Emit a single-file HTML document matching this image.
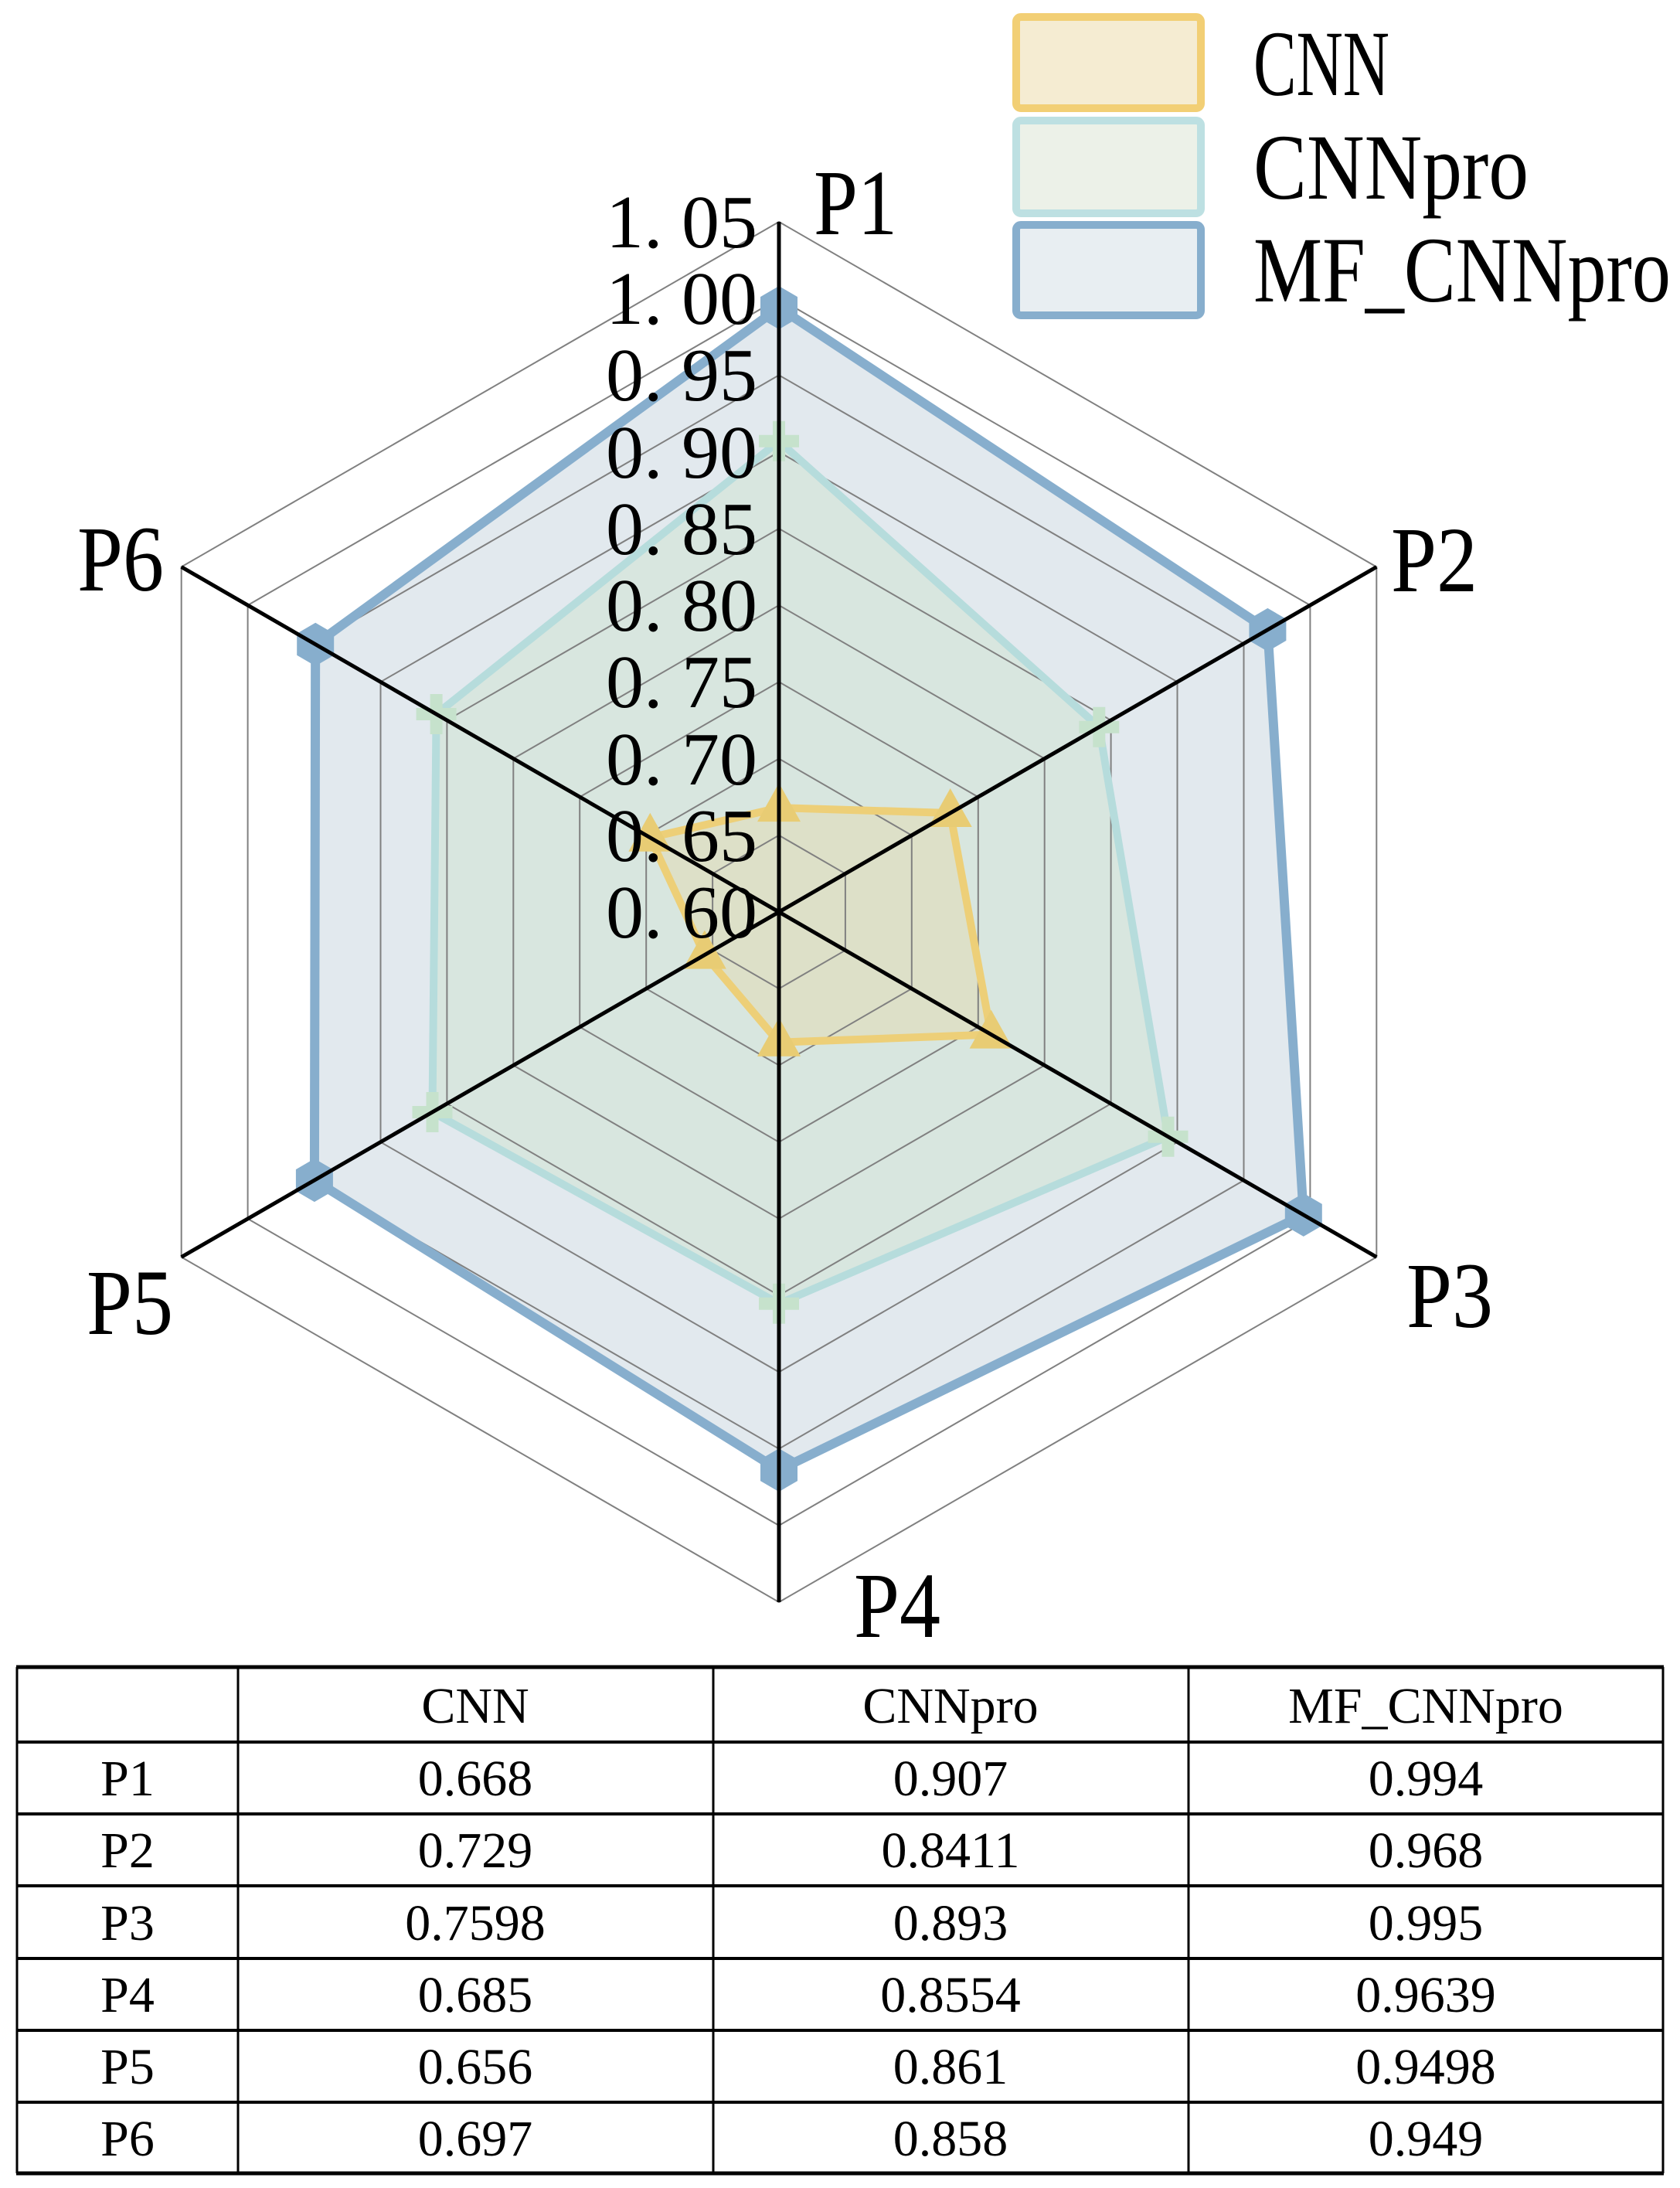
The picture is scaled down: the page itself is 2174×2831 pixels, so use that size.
<!DOCTYPE html>
<html><head><meta charset="utf-8"><style>
html,body{margin:0;padding:0;background:#fff}
svg{display:block}
</style></head><body>
<svg width="2174" height="2831" viewBox="0 0 2174 2831" xmlns="http://www.w3.org/2000/svg">
<defs>
<polygon id="mk" points="0,-28 24,-14 24,14 0,28 -24,14 -24,-14"/>
<polygon id="tri" points="0,-32 28,18 -28,18"/>
<path id="plus" d="M-8,-26 H8 V-8 H26 V8 H8 V26 H-8 V8 H-26 V-8 H-8 Z"/>
</defs>
<!-- fills -->
<polygon points="1008,398.1 1640.4,814.9 1686.8,1571.9 1008,1902.1 406.9,1527.1 408.2,833.7" fill="#e2e9ee"/>
<polygon points="1008,570.8 1422.3,940.8 1511.5,1470.7 1008,1686.8 559.5,1439 564.6,924" fill="#d8e6df"/>
<polygon points="1008,1045.1 1229.7,1052 1282.6,1338.6 1008,1348.7 911.8,1235.6 841.3,1083.8" fill="#dde0c8"/>
<!-- grid -->
<g fill="none" stroke="#808080" stroke-width="2">
<polygon points="1008,1080.8 1093.9,1130.4 1093.9,1229.6 1008,1279.2 922.1,1229.6 922.1,1130.4"/>
<polygon points="1008,981.6 1179.8,1080.8 1179.8,1279.2 1008,1378.4 836.2,1279.2 836.2,1080.8"/>
<polygon points="1008,882.3 1265.8,1031.2 1265.8,1328.8 1008,1477.7 750.2,1328.8 750.2,1031.2"/>
<polygon points="1008,783.1 1351.7,981.6 1351.7,1378.4 1008,1576.9 664.3,1378.4 664.3,981.6"/>
<polygon points="1008,683.9 1437.6,931.9 1437.6,1428.1 1008,1676.1 578.4,1428.1 578.4,931.9"/>
<polygon points="1008,584.7 1523.5,882.3 1523.5,1477.7 1008,1775.3 492.5,1477.7 492.5,882.3"/>
<polygon points="1008,485.4 1609.5,832.7 1609.5,1527.3 1008,1874.6 406.5,1527.3 406.5,832.7"/>
<polygon points="1008,386.2 1695.4,783.1 1695.4,1576.9 1008,1973.8 320.6,1576.9 320.6,783.1"/>
<polygon points="1008,287 1781.3,733.5 1781.3,1626.5 1008,2073 234.7,1626.5 234.7,733.5"/>
</g>
<!-- series lines -->
<polygon points="1008,398.1 1640.4,814.9 1686.8,1571.9 1008,1902.1 406.9,1527.1 408.2,833.7" fill="none" stroke="#87aecd" stroke-width="12" stroke-linejoin="round"/>
<polygon points="1008,570.8 1422.3,940.8 1511.5,1470.7 1008,1686.8 559.5,1439 564.6,924" fill="none" stroke="#b6dcdc" stroke-width="10" stroke-linejoin="round"/>
<polygon points="1008,1045.1 1229.7,1052 1282.6,1338.6 1008,1348.7 911.8,1235.6 841.3,1083.8" fill="none" stroke="#edcf78" stroke-width="10" stroke-linejoin="round"/>
<g fill="#87aecd">
<use href="#mk" x="1008" y="398.1"/><use href="#mk" x="1640.4" y="814.9"/><use href="#mk" x="1686.8" y="1571.9"/>
<use href="#mk" x="1008" y="1902.1"/><use href="#mk" x="406.9" y="1527.1"/><use href="#mk" x="408.2" y="833.7"/>
</g>
<g fill="#c6e2cc">
<use href="#plus" x="1008" y="570.8"/><use href="#plus" x="1422.3" y="940.8"/><use href="#plus" x="1511.5" y="1470.7"/>
<use href="#plus" x="1008" y="1686.8"/><use href="#plus" x="559.5" y="1439"/><use href="#plus" x="564.6" y="924"/>
</g>
<g fill="#e8cc74">
<use href="#tri" x="1008" y="1045.1"/><use href="#tri" x="1229.7" y="1052"/><use href="#tri" x="1282.6" y="1338.6"/>
<use href="#tri" x="1008" y="1348.7"/><use href="#tri" x="911.8" y="1235.6"/><use href="#tri" x="841.3" y="1083.8"/>
</g>
<!-- axes -->
<g stroke="#000" stroke-width="5">
<line x1="1008" y1="287" x2="1008" y2="2073"/>
<line x1="1781.3" y1="733.5" x2="234.7" y2="1626.5"/>
<line x1="1781.3" y1="1626.5" x2="234.7" y2="733.5"/>
</g>
<!-- tick labels -->
<g font-family="Liberation Serif, serif" font-size="98" fill="#000" text-anchor="end">
<text x="980" y="1213" textLength="196" lengthAdjust="spacingAndGlyphs">0. 60</text>
<text x="980" y="1114" textLength="196" lengthAdjust="spacingAndGlyphs">0. 65</text>
<text x="980" y="1015" textLength="196" lengthAdjust="spacingAndGlyphs">0. 70</text>
<text x="980" y="915" textLength="196" lengthAdjust="spacingAndGlyphs">0. 75</text>
<text x="980" y="816" textLength="196" lengthAdjust="spacingAndGlyphs">0. 80</text>
<text x="980" y="717" textLength="196" lengthAdjust="spacingAndGlyphs">0. 85</text>
<text x="980" y="618" textLength="196" lengthAdjust="spacingAndGlyphs">0. 90</text>
<text x="980" y="518" textLength="196" lengthAdjust="spacingAndGlyphs">0. 95</text>
<text x="980" y="419" textLength="196" lengthAdjust="spacingAndGlyphs">1. 00</text>
<text x="980" y="320" textLength="196" lengthAdjust="spacingAndGlyphs">1. 05</text>
</g>
<!-- axis labels -->
<g font-family="Liberation Serif, serif" font-size="121" fill="#000">
<text x="1053" y="303" textLength="108" lengthAdjust="spacingAndGlyphs">P1</text>
<text x="1800" y="765" textLength="112" lengthAdjust="spacingAndGlyphs">P2</text>
<text x="1820" y="1717" textLength="112" lengthAdjust="spacingAndGlyphs">P3</text>
<text x="1105" y="2118" textLength="112" lengthAdjust="spacingAndGlyphs">P4</text>
<text x="112" y="1726" textLength="112" lengthAdjust="spacingAndGlyphs">P5</text>
<text x="100" y="764" textLength="112" lengthAdjust="spacingAndGlyphs">P6</text>
</g>
<!-- legend -->
<rect x="1315" y="22" width="239" height="118" rx="6" fill="#f5ecd2" stroke="#f2cf75" stroke-width="10"/>
<rect x="1315" y="156" width="239" height="120" rx="6" fill="#ecf1e8" stroke="#bde0e2" stroke-width="10"/>
<rect x="1315" y="291" width="239" height="117" rx="6" fill="#e8eef2" stroke="#87aecd" stroke-width="10"/>
<g font-family="Liberation Serif, serif" font-size="121" fill="#000">
<text x="1622" y="123" textLength="176" lengthAdjust="spacingAndGlyphs">CNN</text>
<text x="1622" y="257" textLength="356" lengthAdjust="spacingAndGlyphs">CNNpro</text>
<text x="1622" y="390" textLength="540" lengthAdjust="spacingAndGlyphs">MF_CNNpro</text>
</g>
<!-- table -->
<g stroke="#000" fill="none">
<line x1="21" y1="2157" x2="2153" y2="2157" stroke-width="5"/>
<line x1="21" y1="2254" x2="2153" y2="2254" stroke-width="4"/>
<line x1="21" y1="2347" x2="2153" y2="2347" stroke-width="4"/>
<line x1="21" y1="2440" x2="2153" y2="2440" stroke-width="4"/>
<line x1="21" y1="2534" x2="2153" y2="2534" stroke-width="4"/>
<line x1="21" y1="2627" x2="2153" y2="2627" stroke-width="4"/>
<line x1="21" y1="2720" x2="2153" y2="2720" stroke-width="4"/>
<line x1="21" y1="2812" x2="2153" y2="2812" stroke-width="5"/>
<line x1="22" y1="2157" x2="22" y2="2812" stroke-width="3"/>
<line x1="308" y1="2157" x2="308" y2="2812" stroke-width="3"/>
<line x1="923" y1="2157" x2="923" y2="2812" stroke-width="3"/>
<line x1="1538" y1="2157" x2="1538" y2="2812" stroke-width="3"/>
<line x1="2152" y1="2157" x2="2152" y2="2812" stroke-width="3"/>
</g>
<g font-family="Liberation Serif, serif" font-size="66" fill="#000" text-anchor="middle">
<text x="615" y="2229">CNN</text><text x="1230" y="2229">CNNpro</text><text x="1845" y="2229">MF_CNNpro</text>
<text x="165" y="2323">P1</text><text x="615" y="2323">0.668</text><text x="1230" y="2323">0.907</text><text x="1845" y="2323">0.994</text>
<text x="165" y="2416">P2</text><text x="615" y="2416">0.729</text><text x="1230" y="2416">0.8411</text><text x="1845" y="2416">0.968</text>
<text x="165" y="2510">P3</text><text x="615" y="2510">0.7598</text><text x="1230" y="2510">0.893</text><text x="1845" y="2510">0.995</text>
<text x="165" y="2603">P4</text><text x="615" y="2603">0.685</text><text x="1230" y="2603">0.8554</text><text x="1845" y="2603">0.9639</text>
<text x="165" y="2696">P5</text><text x="615" y="2696">0.656</text><text x="1230" y="2696">0.861</text><text x="1845" y="2696">0.9498</text>
<text x="165" y="2789">P6</text><text x="615" y="2789">0.697</text><text x="1230" y="2789">0.858</text><text x="1845" y="2789">0.949</text>
</g>
</svg>
</body></html>
